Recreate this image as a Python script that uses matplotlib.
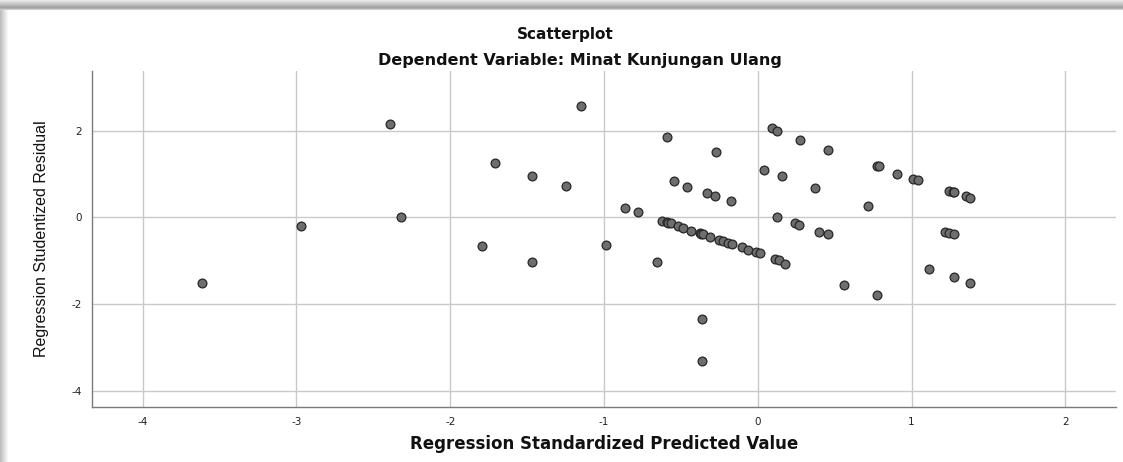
import matplotlib
matplotlib.use("Agg")
import matplotlib.pyplot as plt
from matplotlib.patches import Rectangle

# Regression standardized predicted value (x) and studentized residual (y)
pred = [-3.617, -2.971, -2.392, -2.318,
        -1.707, -1.468, -1.249, -1.152, -1.792, -1.468, -0.985,
        -0.861, -0.781, -0.655, -0.592, -0.273, -0.547, -0.462, -0.332, -0.280, -0.176,
        -0.360, -0.360, 0.041,
        -0.624, -0.592, -0.586, -0.566, -0.517, -0.484, -0.436, -0.376, -0.370, -0.354,
        -0.310, -0.250, -0.224, -0.195, -0.169, -0.100, -0.065, -0.011, 0.015,
        0.091, 0.124, 0.277, 0.457, 0.160, 0.375, 0.718, 0.778, 0.791,
        0.908, 1.010, 1.043, 1.247, 1.268, 1.277, 1.355, 1.381,
        0.124, 0.243, 0.271, 0.397, 0.457, 1.217, 1.247, 1.277,
        0.111, 0.141, 0.180, 1.115, 1.277, 1.381, 0.564, 0.778]
resid = [-1.52, -0.20, 2.14, 0.00,
         1.26, 0.95, 0.72, 2.56, -0.67, -1.03, -0.64,
         0.21, 0.115, -1.03, 1.84, 1.50, 0.83, 0.705, 0.55, 0.49, 0.37,
         -2.34, -3.31, 1.08,
         -0.08, -0.115, -0.12, -0.14, -0.20, -0.24, -0.31, -0.37, -0.375, -0.39,
         -0.445, -0.52, -0.55, -0.585, -0.61, -0.69, -0.75, -0.80, -0.83,
         2.05, 2.00, 1.78, 1.55, 0.95, 0.68, 0.27, 1.18, 1.18,
         1.01, 0.89, 0.86, 0.61, 0.58, 0.575, 0.49, 0.45,
         0.007, -0.14, -0.17, -0.33, -0.39, -0.33, -0.36, -0.39,
         -0.96, -0.99, -1.07, -1.19, -1.38, -1.51, -1.57, -1.78]

xticks = [-4, -3, -2, -1, 0, 1, 2]
yticks = [-4, -2, 0, 2]

title = "Scatterplot"
subtitle = "Dependent Variable: Minat Kunjungan Ulang"
xlabel = "Regression Standardized Predicted Value"
ylabel = "Regression Studentized Residual"

plt.rcParams['font.family'] = ['DejaVu Sans']

fig = plt.figure(figsize=(11.23, 4.62), dpi=100)
ax = fig.add_axes([92/1123, 1 - 407.3/462, (1116-92)/1123, (407.3-70.7)/462])

ax.scatter(pred, resid, s=40, facecolor='#6e6e6e', edgecolor='#262626',
           linewidth=0.9, zorder=3)

ax.set_xlim(-4.33, 2.33)
ax.set_ylim(-4.38, 3.38)
ax.set_xticks(xticks)
ax.set_yticks(yticks)
ax.set_xticklabels([str(t) for t in xticks])
ax.set_yticklabels([str(t) for t in yticks])
ax.tick_params(length=0, labelsize=7.5, colors='#222222', pad=7)
ax.grid(True, color='#c9c9c9', linewidth=1.0, zorder=0)
ax.set_axisbelow(True)
for s in ['top', 'right']:
    ax.spines[s].set_visible(False)
for s in ['left', 'bottom']:
    ax.spines[s].set_color('#7a7a7a')
    ax.spines[s].set_linewidth(1.0)

fig.text(565/1123, 1 - 35/462, title, ha='center', va='center',
         fontsize=11, fontweight='bold', color='#111111')
fig.text(580/1123, 1 - 60/462, subtitle, ha='center', va='center',
         fontsize=11.5, fontweight='bold', color='#111111')
fig.text(604/1123, 1 - 444/462, xlabel, ha='center', va='center',
         fontsize=12, fontweight='bold', color='#111111')
fig.text(42/1123, 1 - 239/462, ylabel, ha='center', va='center', rotation=90,
         fontsize=11.5, color='#111111', family=['Liberation Sans', 'DejaVu Sans'])

# document shadow frame (top and left)
shades = ['#e8e8e8', '#dedede', '#d4d4d4', '#cacaca', '#c0c0c0', '#b4b4b4',
          '#aaaaaa', '#a4a4a4', '#b0b0b0', '#cfcfcf']
H, W = 462, 1123
for i, c in enumerate(shades):
    fig.patches.append(Rectangle((0, 1 - (i + 1)/H), 1, 1/H, transform=fig.transFigure,
                                 facecolor=c, edgecolor='none', zorder=-1))
lshades = ['#bdbdbd', '#c6c6c6', '#cfcfcf', '#d8d8d8', '#e0e0e0', '#e8e8e8', '#f0f0f0', '#f6f6f6']
for i, c in enumerate(lshades):
    fig.patches.append(Rectangle((i/W, 0), 1/W, 1 - 10/H, transform=fig.transFigure,
                                 facecolor=c, edgecolor='none', zorder=-1))

fig.savefig("out.png", dpi=100)
